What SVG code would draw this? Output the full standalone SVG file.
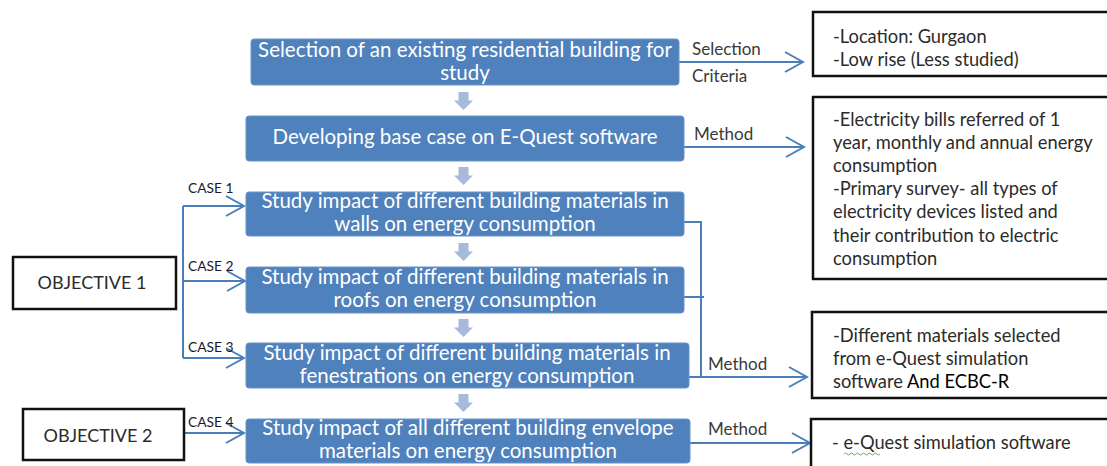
<svg xmlns="http://www.w3.org/2000/svg" width="1107" height="466" viewBox="0 0 1107 466">
<defs>
<style>
.blue{fill:#4f81bd;stroke:#6a93c8;stroke-width:1}
.bt{font-family:Lato,"Liberation Sans",sans-serif;font-size:20.5px;fill:#ffffff;text-anchor:middle}
.bx{fill:#ffffff;stroke:#111111;stroke-width:2.5}
.rt{font-family:Lato,"Liberation Sans",sans-serif;font-size:18.3px;fill:#2b2b2b}
.lbl{font-family:Lato,"Liberation Sans",sans-serif;font-size:17px;fill:#3a3a3a}
.case{font-family:Lato,"Liberation Sans",sans-serif;font-size:13.8px;fill:#1a1a2a}
.obj{font-family:Lato,"Liberation Sans",sans-serif;font-size:18px;fill:#2b2b2b;text-anchor:middle}
.con{fill:none;stroke:#4a7ebb;stroke-width:2}
.down{fill:#a7badb}
</style>
<marker id="chev" viewBox="-20 -12 22 24" refX="0" refY="0" markerWidth="22" markerHeight="24" markerUnits="userSpaceOnUse" orient="auto">
<path d="M-18,-10 L0,0 L-18,10" fill="none" stroke="#4a7ebb" stroke-width="2"/>
</marker>
<path id="dn" d="M-5,0 H5 V8.5 H9.5 L0,18 L-9.5,8.5 H-5 Z"/>
</defs>

<g id="connectors">
<path class="con" d="M679,62 H803" marker-end="url(#chev)"/>
<path class="con" d="M684,147 H804" marker-end="url(#chev)"/>
<path class="con" d="M684,222 H701 V377"/>
<path class="con" d="M684,297 H704"/>
<path class="con" d="M689,377 H807" marker-end="url(#chev)"/>
<path class="con" d="M690,443 H810" marker-end="url(#chev)"/>
<path class="con" d="M183,206 V358"/>
<path class="con" d="M183,206 H244" marker-end="url(#chev)"/>
<path class="con" d="M183,281 H245" marker-end="url(#chev)"/>
<path class="con" d="M183,358 H244" marker-end="url(#chev)"/>
<path class="con" d="M184,433 H244" marker-end="url(#chev)"/>
<use href="#dn" class="down" x="463.5" y="92"/>
<use href="#dn" class="down" x="463.5" y="167"/>
<use href="#dn" class="down" x="463.5" y="243"/>
<use href="#dn" class="down" x="463.5" y="319"/>
<use href="#dn" class="down" x="463.5" y="394"/>
<text class="lbl" x="692" y="55">Selection</text>
<text class="lbl" x="692" y="82">Criteria</text>
<text class="lbl" x="694" y="140">Method</text>
<text class="lbl" x="708" y="370">Method</text>
<text class="lbl" x="708" y="435">Method</text>
<text class="case" x="188" y="193">CASE 1</text>
<text class="case" x="188" y="271">CASE 2</text>
<text class="case" x="188" y="352">CASE 3</text>
<text class="case" x="188" y="427">CASE 4</text>
</g>

<g id="step1">
<rect class="blue" x="251" y="39" width="428" height="46" rx="3"/>
<text class="bt" x="465" y="57">Selection of an existing residential building for</text>
<text class="bt" x="465" y="80">study</text>
</g>
<g id="step2">
<rect class="blue" x="246" y="116" width="438" height="45" rx="3"/>
<text class="bt" x="465" y="144">Developing base case on E-Quest software</text>
</g>
<g id="case1">
<rect class="blue" x="246" y="192" width="438" height="44" rx="3"/>
<text class="bt" x="465" y="208">Study impact of different building materials in</text>
<text class="bt" x="465" y="231">walls on energy consumption</text>
</g>
<g id="case2">
<rect class="blue" x="246" y="267" width="438" height="46" rx="3"/>
<text class="bt" x="465" y="284">Study impact of different building materials in</text>
<text class="bt" x="465" y="307">roofs on energy consumption</text>
</g>
<g id="case3">
<rect class="blue" x="246" y="343" width="443" height="45" rx="3"/>
<text class="bt" x="467" y="360">Study impact of different building materials in</text>
<text class="bt" x="467" y="383">fenestrations on energy consumption</text>
</g>
<g id="case4">
<rect class="blue" x="246" y="419" width="444" height="44" rx="3"/>
<text class="bt" x="468" y="435">Study impact of all different building envelope</text>
<text class="bt" x="468" y="458">materials on energy consumption</text>
</g>

<g id="objective1">
<rect class="bx" x="13" y="257" width="163" height="52"/>
<text class="obj" x="92" y="289">OBJECTIVE  1</text>
</g>
<g id="objective2">
<rect class="bx" x="23" y="409" width="161" height="51"/>
<text class="obj" x="98" y="442">OBJECTIVE  2</text>
</g>

<g id="criteria">
<rect class="bx" x="813" y="12" width="310" height="64"/>
<text class="rt" x="833" y="43">-Location: Gurgaon</text>
<text class="rt" x="833" y="66">-Low rise (Less studied)</text>
</g>
<g id="method1">
<rect class="bx" x="813" y="97" width="310" height="182"/>
<text class="rt" x="833" y="126">-Electricity  bills referred of 1</text>
<text class="rt" x="833" y="149">year, monthly and annual energy</text>
<text class="rt" x="833" y="172">consumption</text>
<text class="rt" x="833" y="195">-Primary survey- all types of</text>
<text class="rt" x="833" y="218">electricity devices listed and</text>
<text class="rt" x="833" y="242">their contribution to electric</text>
<text class="rt" x="833" y="265">consumption</text>
</g>
<g id="method2">
<rect class="bx" x="812" y="312" width="310" height="86"/>
<text class="rt" x="833" y="342">-Different materials selected</text>
<text class="rt" x="833" y="365">from e-Quest simulation</text>
<text class="rt" x="833" y="388">software <tspan fill="#000000">And ECBC-R</tspan></text>
</g>
<g id="method3">
<rect class="bx" x="811" y="419" width="310" height="60"/>
<text class="rt" x="832" y="449">- e-Quest simulation software</text>
<path d="M844,454 q1.5,-2 3,0 t3,0 t3,0 t3,0 t3,0 t3,0 t3,0 t3,0 t3,0 t3,0 t3,0 t3,0" fill="none" stroke="#5fae5f" stroke-width="1"/>
</g>
</svg>
